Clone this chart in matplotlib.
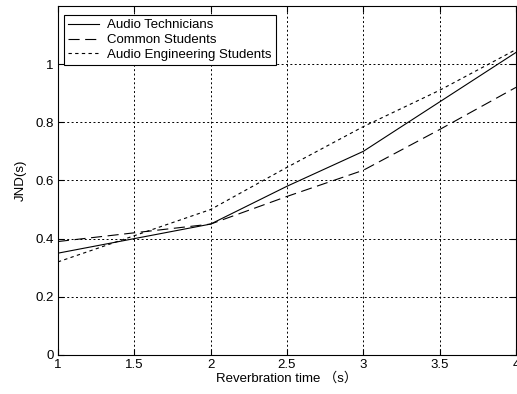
"""
plot.py: JND vs reverberation time for three listener groups
"""
import matplotlib
matplotlib.use("Agg")
import matplotlib.pyplot as plt

plt.rcParams['font.family'] = ['Liberation Sans', 'Noto Sans CJK SC']
plt.rcParams['font.size'] = 9.5

# Data
rt = [1, 1.5, 2, 2.5, 3, 3.5, 4]
technicians = [0.35, 0.40, 0.45, 0.58, 0.70, 0.87, 1.04]
common = [0.39, 0.42, 0.45, 0.545, 0.635, 0.775, 0.92]
engineering = [0.32, 0.41, 0.50, 0.645, 0.785, 0.91, 1.05]
labels = ["Audio Technicians", "Common Students", "Audio Engineering Students"]

fig = plt.figure(figsize=(5.17, 3.94), dpi=100)
ax = fig.add_axes([0.112, 0.099, 0.886, 0.886])

ax.plot(rt, technicians, "-", color="black", lw=0.8, label=labels[0])
ax.plot(rt, common, color="black", lw=0.8, dashes=(10, 5), label=labels[1])
ax.plot(rt, engineering, color="black", lw=0.8, dashes=(3, 3), label=labels[2])

ax.set_xlim(1, 4)
ax.set_ylim(0, 1.2)
ax.set_xticks([1, 1.5, 2, 2.5, 3, 3.5, 4])
ax.set_xticklabels(["1", "1.5", "2", "2.5", "3", "3.5", "4"])
ax.set_yticks([0, 0.2, 0.4, 0.6, 0.8, 1])
ax.set_yticklabels(["0", "0.2", "0.4", "0.6", "0.8", "1"])
ax.grid(True, color="black", linestyle=(0, (2, 2.5)), lw=0.7)
ax.tick_params(direction="in", top=True, right=True, length=4, width=0.8, pad=3)
for s in ax.spines.values():
    s.set_linewidth(0.8)

ax.set_xlabel("Reverbration time （s）", labelpad=1)
ax.set_ylabel("JND(s)", labelpad=6)

leg = ax.legend(loc="upper left", bbox_to_anchor=(0.004, 0.985), fancybox=False,
                edgecolor="black", framealpha=1, borderaxespad=0.3,
                handlelength=2.4, handletextpad=0.6, labelspacing=0.2, borderpad=0.3)
leg.get_frame().set_linewidth(0.8)

fig.savefig("out.png", dpi=100)
